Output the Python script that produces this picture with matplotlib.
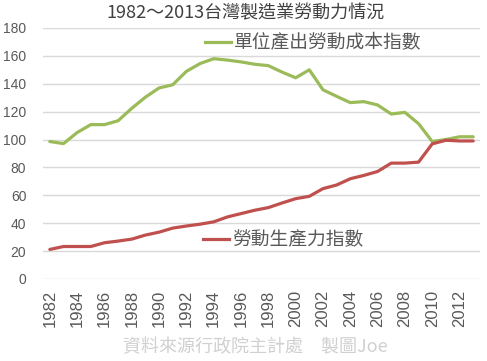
import numpy as np
import matplotlib
matplotlib.use('Agg')
import matplotlib.pyplot as plt
from matplotlib.lines import Line2D

plt.rcParams['font.family'] = ['Noto Sans CJK TC', 'DejaVu Sans']

years = list(range(1982, 2014))
# 單位產出勞動成本指數
unit_labor_cost = [98.6, 97.1, 105.0, 110.7, 110.7, 113.5, 122.4, 130.4, 137.0, 139.3,
                   148.9, 154.5, 158.0, 157.0, 155.7, 154.0, 153.0, 148.4, 144.3, 150.0,
                   135.7, 131.0, 126.5, 127.2, 124.8, 118.3, 119.5, 111.4, 98.6, 100.0,
                   102.0, 102.0]
# 勞動生產力指數
labor_productivity = [21.2, 23.3, 23.3, 23.3, 26.0, 27.2, 28.6, 31.5, 33.6, 36.5,
                      38.0, 39.3, 41.0, 44.5, 46.9, 49.3, 51.2, 54.5, 57.6, 59.3,
                      64.8, 67.4, 71.9, 74.3, 77.1, 83.1, 83.1, 83.8, 96.9, 99.5,
                      99.0, 99.0]

green = '#9BBB59'
red = '#C0504D'
tick_color = '#595959'

fig = plt.figure(figsize=(4.87, 3.61), dpi=100)
ax = fig.add_axes([43/487, 1-279/361, 437/487, 251/361])

x = np.arange(len(years))
ax.plot(x, unit_labor_cost, color=green, lw=2.3, solid_capstyle='round')
ax.plot(x, labor_productivity, color=red, lw=2.3, solid_capstyle='round')

ax.set_xlim(-0.5, len(years) - 0.5)
ax.set_ylim(0, 180)
ax.set_yticks(range(0, 181, 20))
ax.set_yticklabels([str(v) for v in range(0, 181, 20)], family='Liberation Sans', fontsize=10)
ax.set_xticks(x[::2])
ax.set_xticklabels([str(y) for y in years[::2]], rotation=90, family='Liberation Sans', fontsize=12)
ax.tick_params(length=0, colors=tick_color, pad=8)
ax.tick_params(axis='y', pad=12)
ax.grid(axis='y', color='#d9d9d9', lw=1)
ax.set_axisbelow(True)
for s in ax.spines.values():
    s.set_visible(False)

fig.text(245/487, 1-13/361, '1982～2013台灣製造業勞動力情況', ha='center', va='center',
         fontsize=13, color='#404040')

h1 = [Line2D([], [], color=green, lw=2.3)]
leg1 = ax.legend(h1, ['單位產出勞動成本指數'], loc='center left', frameon=False,
                 bbox_to_anchor=(205/487, 1-43/361), bbox_transform=fig.transFigure,
                 fontsize=13.5, handlelength=1.4, handletextpad=0.15, labelcolor='#595959',
                 borderpad=0.0, borderaxespad=0.0)
ax.add_artist(leg1)
h2 = [Line2D([], [], color=red, lw=2.3)]
ax.legend(h2, ['勞動生產力指數'], loc='center left', frameon=False,
          bbox_to_anchor=(203/487, 1-240/361), bbox_transform=fig.transFigure,
          fontsize=13.5, handlelength=1.4, handletextpad=0.15, labelcolor='#595959',
          borderpad=0.0, borderaxespad=0.0)

fig.text(255/487, 1-347/361, '資料來源行政院主計處　製圖Joe', ha='center', va='center',
         fontsize=13, color='#d0d0d0')

fig.savefig('out.png', dpi=100)
